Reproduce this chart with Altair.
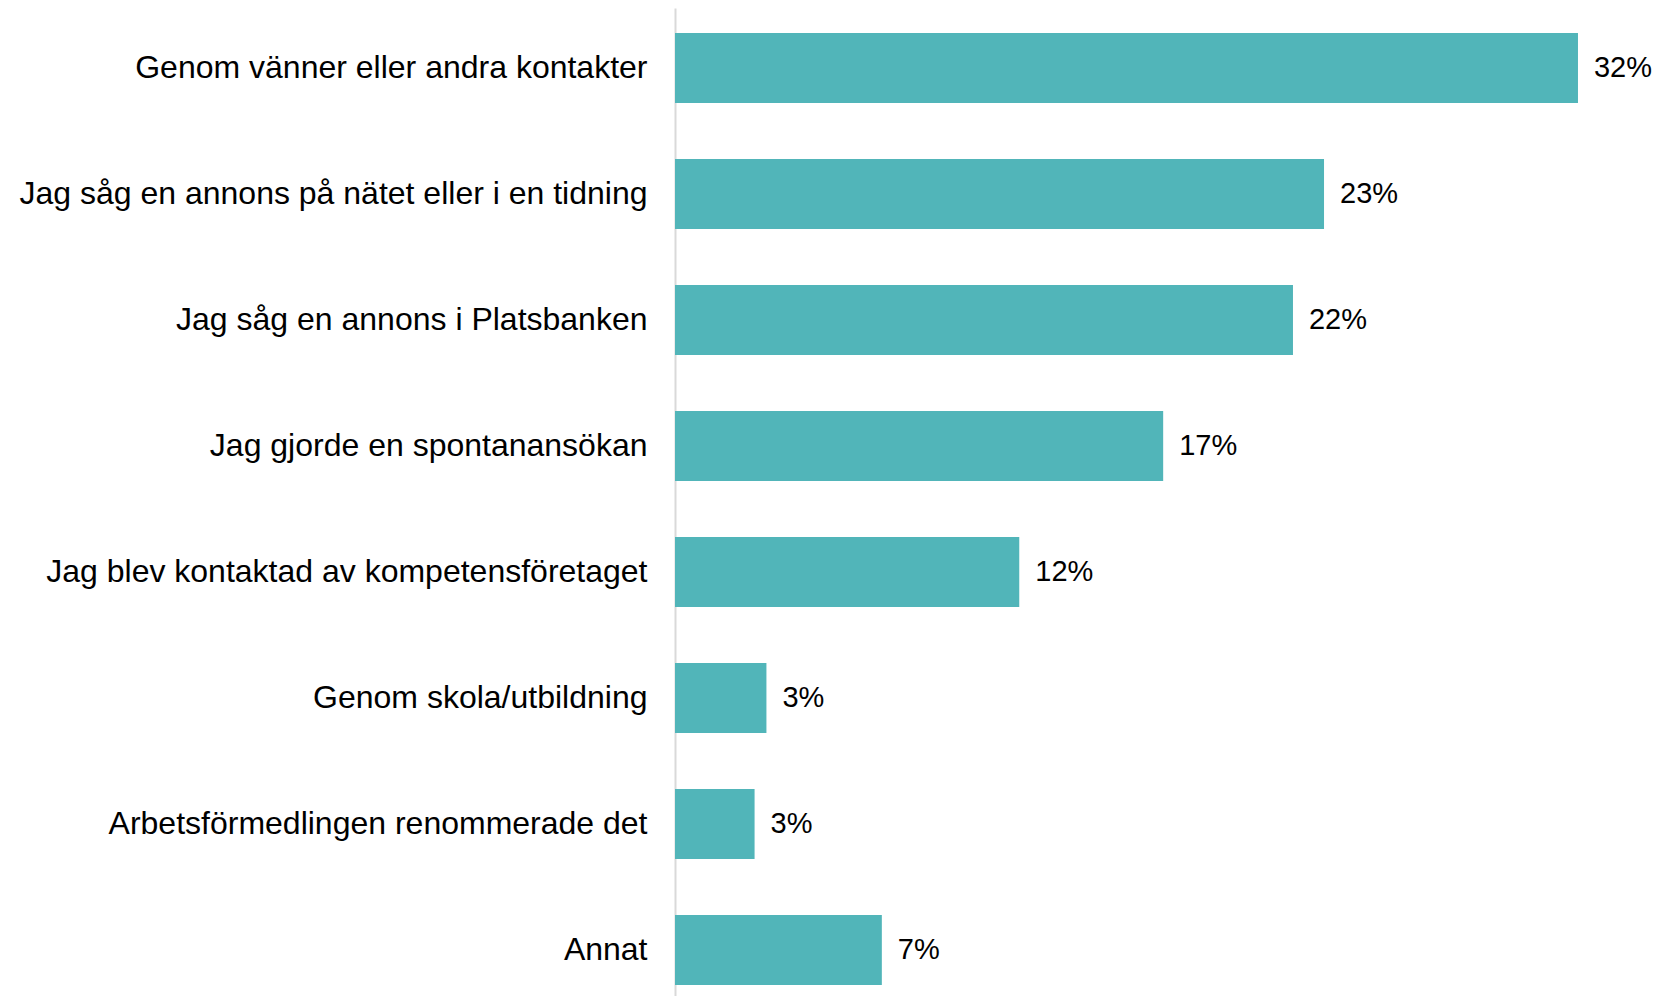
import altair as alt
import pandas as pd

categories = [
    "Genom vänner eller andra kontakter",
    "Jag såg en annons på nätet eller i en tidning",
    "Jag såg en annons i Platsbanken",
    "Jag gjorde en spontanansökan",
    "Jag blev kontaktad av kompetensföretaget",
    "Genom skola/utbildning",
    "Arbetsförmedlingen renommerade det",
    "Annat",
]
values = [32.0, 23.0, 21.9, 17.3, 12.2, 3.24, 2.82, 7.33]
labels = ["32%", "23%", "22%", "17%", "12%", "3%", "3%", "7%"]

df = pd.DataFrame({"category": categories, "value": values, "label": labels})

y = alt.Y(
    "category:N",
    sort=None,
    title=None,
    scale=alt.Scale(paddingInner=0.444, paddingOuter=0.143, align=0.694),
    axis=alt.Axis(
        ticks=False,
        labelFont="Liberation Sans",
        labelFontSize=32,
        labelColor="#000000",
        labelPadding=28,
        labelLimit=700,
        domainColor="#d9d9d9",
        domainWidth=2,
        grid=False,
    ),
)
x = alt.X("value:Q", scale=alt.Scale(domain=[0, 35.19], nice=False, zero=True), axis=None)

bars = alt.Chart(df).mark_bar(color="#51B5B9").encode(x=x, y=y)
text = alt.Chart(df).mark_text(
    align="left", baseline="middle", dx=16,
    font="Liberation Sans", fontSize=29, color="#000000",
).encode(x=x, y=y, text="label:N")

chart = (
    alt.layer(bars, text)
    .properties(
        width=993,
        height=988,
        autosize=alt.AutoSizeParams(type="none"),
        padding={"left": 667, "top": 0, "right": 0, "bottom": 0},
        background="#ffffff",
    )
    .configure_view(strokeWidth=0)
)

chart.save("out.html", embed_options={"renderer": "svg", "actions": False})
